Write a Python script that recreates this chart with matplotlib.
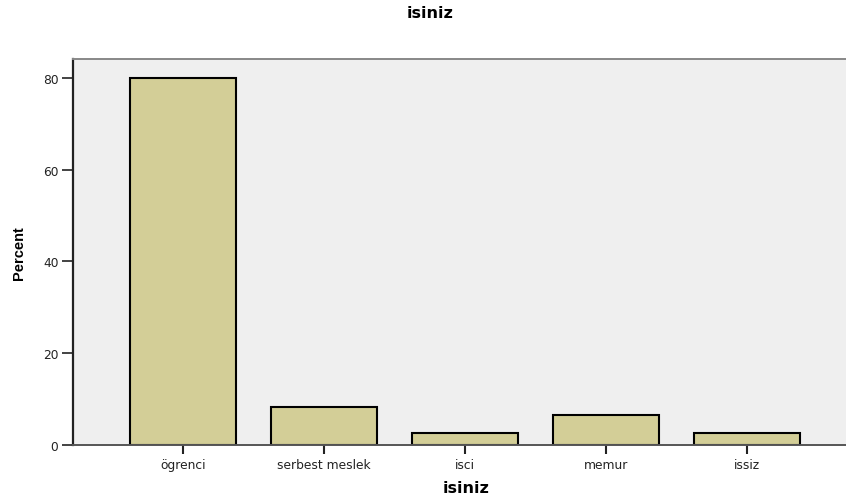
import matplotlib
matplotlib.use("Agg")
import matplotlib.pyplot as plt

# data
categories = ["ögrenci", "serbest meslek", "isci", "memur", "issiz"]
percent = [80.0, 8.2, 2.7, 6.6, 2.7]
y_ticks = [0, 20, 40, 60, 80]

W, H = 846, 502
fig = plt.figure(figsize=(W / 100, H / 100), dpi=100)
ax = fig.add_axes([73 / W, 56 / H, (W - 73) / W, (446 - 60) / H])
ax.set_facecolor("#EFEFEF")

xs = list(range(len(categories)))
ax.bar(xs, percent, width=0.75, color="#D3CE97", edgecolor="black", linewidth=1.5, zorder=3)

ax.set_xlim(-0.778, 4.704)
ax.set_ylim(0, 84.1)
ax.set_yticks(y_ticks)
ax.set_xticks(xs)
ax.set_xticklabels(categories)

for lab in ax.get_xticklabels() + ax.get_yticklabels():
    lab.set_family("DejaVu Sans")
    lab.set_fontsize(8.8)
    lab.set_color("#222222")

ax.tick_params(axis="y", direction="out", length=8, width=1.2, color="#222222", pad=2.5)
ax.tick_params(axis="x", direction="out", length=6.5, width=1.5, color="#222222", pad=3)

ax.spines["right"].set_visible(False)
ax.spines["left"].set_color("#222222")
ax.spines["left"].set_linewidth(1.6)
ax.spines["top"].set_color("#888888")
ax.spines["top"].set_linewidth(1.4)
ax.spines["bottom"].set_color("#555555")
ax.spines["bottom"].set_linewidth(1.4)
ax.spines["bottom"].set_zorder(4)

fig.text(430 / W, 1 - 13.7 / H, "isiniz", ha="center", va="center",
         fontsize=11.5, fontweight="bold", family="DejaVu Sans")
fig.text(466 / W, 1 - 489 / H, "isiniz", ha="center", va="center",
         fontsize=11.5, fontweight="bold", family="DejaVu Sans")
fig.text(18.8 / W, 1 - 253 / H, "Percent", ha="center", va="center", rotation=90,
         fontsize=10.5, fontweight="bold", family="Liberation Sans")

fig.savefig("out.png", dpi=100)
